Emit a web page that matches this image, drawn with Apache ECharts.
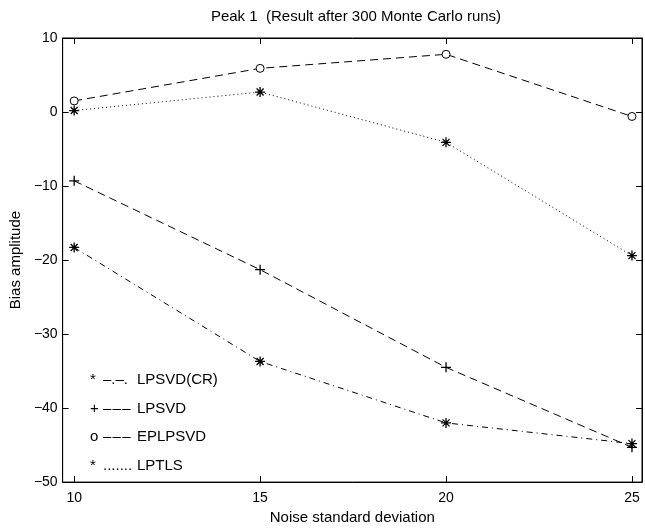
<!DOCTYPE html>
<html>
<head>
<meta charset="utf-8">
<script src="https://cdn.jsdelivr.net/npm/echarts@6/dist/echarts.min.js"></script>
<style>html,body{margin:0;padding:0;background:#fff}#c{width:645px;height:530px}</style>
</head>
<body>
<div id="c"></div>
<script>
// ---- data ----
var noiseStd = [10, 15, 20, 25];
var xTicks = [10, 15, 20, 25];
var seriesNames = ['LPSVD(CR)', 'LPSVD', 'EPLPSVD', 'LPTLS'];
var legendMarks = ['*', '+', 'o', '*'];
var legendSamples = ['\u2013.\u2013.', '\u2013\u200A\u2013\u200A\u2013', '\u2013\u200A\u2013\u200A\u2013', '.......'];
var lpsvdCR = [-18.3, -33.7, -42.0, -44.8];
var lpsvd = [-9.3, -21.3, -34.5, -45.3];
var eplpsvd = [1.5, 5.9, 7.8, -0.6];
var lptls = [0.2, 2.7, -4.1, -19.4];
var titleText = 'Peak 1  (Result after 300 Monte Carlo runs)';
var xName = 'Noise standard deviation';
var yName = 'Bias amplitude';

var FONT = '"Liberation Sans", Arial, Helvetica, sans-serif';
var STAR = 'path://M5,0L5,10M0,5L10,5M1.5,1.5L8.5,8.5M8.5,1.5L1.5,8.5';
var PLUS = 'path://M5,0L5,10M0,5L10,5';

function pts(arr) { return noiseStd.map(function (x, i) { return [x, arr[i]]; }); }

function mkSeries(name, arr, symbol, size, dash) {
  var isPath = symbol.indexOf('path://') === 0;
  return {
    name: name, type: 'line', data: pts(arr),
    symbol: symbol, symbolSize: size, symbolKeepAspect: true,
    showSymbol: true,
    lineStyle: { color: '#000', width: 1, type: dash },
    itemStyle: isPath ? { color: 'none', borderColor: '#000', borderWidth: 1.3 }
                      : { color: '#fff', borderColor: '#000', borderWidth: 1 },
    emphasis: { disabled: true },
    z: 3
  };
}

var markMap = {}, sampleMap = {};
seriesNames.forEach(function (n, i) { markMap[n] = legendMarks[i]; sampleMap[n] = legendSamples[i]; });

var chart = echarts.init(document.getElementById('c'), null, { renderer: 'canvas' });
var axisText = { color: '#000', fontFamily: FONT, fontSize: 14 };
chart.setOption({
  animation: false,
  backgroundColor: '#fff',
  textStyle: { fontFamily: FONT, color: '#000' },
  title: {
    text: titleText, left: 351, top: 4, textAlign: 'center',
    textStyle: { fontFamily: FONT, fontSize: 15, fontWeight: 'normal', color: '#000' }
  },
  grid: { left: 60, right: 3, top: 38, height: 454, show: true, borderColor: '#000', borderWidth: 1, containLabel: false },
  legend: {
    orient: 'vertical', left: 80, top: 366, icon: 'none', itemWidth: 0, itemHeight: 0, itemGap: 10.5,
    selectedMode: false,
    data: seriesNames,
    formatter: function (n) { return '{m|' + markMap[n] + '}{s|' + sampleMap[n] + '}{t|' + n + '}'; },
    textStyle: {
      fontFamily: FONT, fontSize: 15, color: '#000', lineHeight: 18,
      rich: {
        m: { width: 13, fontSize: 15, fontFamily: FONT, color: '#000' },
        s: { width: 34, fontSize: 15, fontFamily: FONT, color: '#000' },
        t: { fontSize: 15, fontFamily: FONT, color: '#000' }
      }
    }
  },
  xAxis: [{
    type: 'value', min: 9.69, max: 25.27, position: 'bottom',
    name: xName, nameLocation: 'middle', nameGap: 22,
    nameTextStyle: { fontFamily: FONT, fontSize: 15, color: '#000' },
    axisLine: { show: true, onZero: false, lineStyle: { color: '#000' } },
    axisTick: { show: true, inside: true, length: 6, lineStyle: { color: '#000' }, customValues: xTicks },
    axisLabel: Object.assign({ margin: 9, customValues: xTicks }, axisText),
    splitLine: { show: false }
  }, {
    type: 'value', min: 9.69, max: 25.27, position: 'top',
    axisLine: { show: true, onZero: false, lineStyle: { color: '#000' } },
    axisTick: { show: true, inside: true, length: 6, lineStyle: { color: '#000' }, customValues: xTicks },
    axisLabel: { show: false },
    splitLine: { show: false }
  }],
  yAxis: [{
    type: 'value', min: -50, max: 10, interval: 10, position: 'left',
    name: yName, nameLocation: 'middle', nameGap: 33,
    nameTextStyle: { fontFamily: FONT, fontSize: 15, color: '#000' },
    axisLine: { show: true, onZero: false, lineStyle: { color: '#000' } },
    axisTick: { show: true, inside: true, length: 6, lineStyle: { color: '#000' } },
    axisLabel: Object.assign({ margin: 5, formatter: function (v) { return String(v).replace('-', '\u2212'); } }, axisText),
    splitLine: { show: false }
  }, {
    type: 'value', min: -50, max: 10, interval: 10, position: 'right',
    axisLine: { show: true, onZero: false, lineStyle: { color: '#000' } },
    axisTick: { show: true, inside: true, length: 6, lineStyle: { color: '#000' } },
    axisLabel: { show: false },
    splitLine: { show: false }
  }],
  series: [
    mkSeries(seriesNames[0], lpsvdCR, STAR, 10, [6, 4, 1, 4]),
    mkSeries(seriesNames[1], lpsvd, PLUS, 10, [8, 5]),
    mkSeries(seriesNames[2], eplpsvd, 'circle', 8, [8, 5]),
    mkSeries(seriesNames[3], lptls, STAR, 10, [1, 3])
  ]
});
</script>
</body>
</html>
